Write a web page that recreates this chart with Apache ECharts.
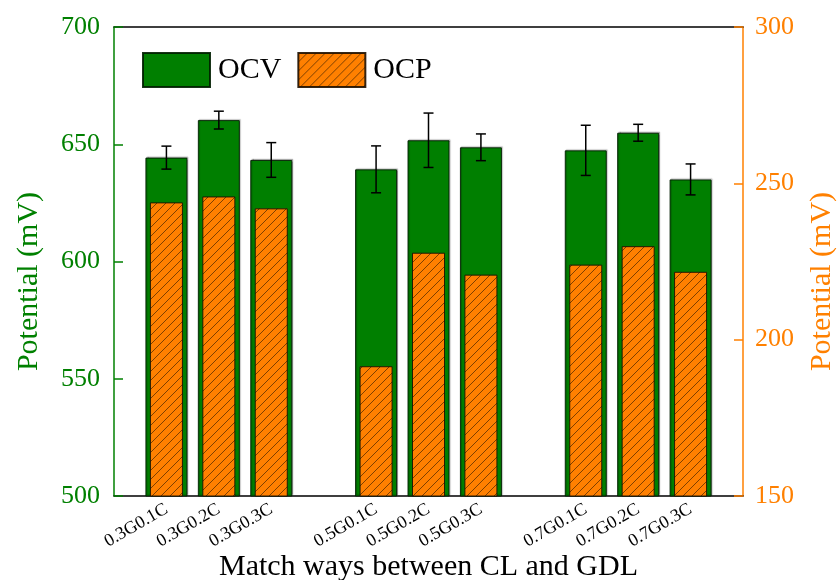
<!DOCTYPE html>
<html>
<head>
<meta charset="utf-8">
<script src="https://cdn.jsdelivr.net/npm/echarts@6/dist/echarts.min.js"></script>
<style>html,body{margin:0;padding:0;background:#fff}#c{width:838px;height:580px}</style>
</head>
<body>
<div id="c"></div>
<script>
// ---- data ----
const categories = ['0.3G0.1C','0.3G0.2C','0.3G0.3C','0.5G0.1C','0.5G0.2C','0.5G0.3C','0.7G0.1C','0.7G0.2C','0.7G0.3C'];
const ocv = [644.3, 660.3, 643.3, 639.3, 651.7, 648.7, 647.4, 654.9, 635.0];
const ocvErr = [4.9, 3.8, 7.4, 10.0, 11.6, 5.7, 10.7, 3.6, 6.6];
const ocp = [243.9, 245.8, 242.0, 191.5, 227.8, 220.8, 224.0, 229.9, 221.7];
const leftTicks = [500, 550, 600, 650, 700];
const rightTicks = [150, 200, 250, 300];

// build axis slots: blank slot at both ends and between groups of three
const axisCats = [''];
const slotIndex = [];
categories.forEach((c, i) => {
  if (i > 0 && i % 3 === 0) axisCats.push('');
  slotIndex.push(axisCats.length);
  axisCats.push(c);
});
axisCats.push('');
function toSlots(arr) {
  const out = axisCats.map(() => '-');
  arr.forEach((v, i) => { out[slotIndex[i]] = v; });
  return out;
}

const GREEN = '#007F00';
const ORANGE = '#FF8000';
const FONT = "'Liberation Serif','Times New Roman',serif";

// hatch pattern
const tile = document.createElement('canvas');
tile.width = 9; tile.height = 9;
const g = tile.getContext('2d');
g.fillStyle = ORANGE; g.fillRect(0, 0, 9, 9);
g.strokeStyle = 'rgba(40,20,0,0.75)'; g.lineWidth = 0.8;
g.beginPath();
g.moveTo(0, 9); g.lineTo(9, 0);
g.moveTo(-1, 1); g.lineTo(1, -1);
g.moveTo(8, 10); g.lineTo(10, 8);
g.stroke();

const chart = echarts.init(document.getElementById('c'));
chart.setOption({
  animation: false,
  textStyle: { fontFamily: FONT },
  grid: { left: 114, right: 95, top: 27, bottom: 84, containLabel: false, outerBoundsMode: 'none' },
  legend: {
    left: 137, top: 47, itemWidth: 67, itemHeight: 34, itemGap: 16,
    icon: 'rect',
    textStyle: { fontSize: 30, color: '#000', fontFamily: FONT, padding: [0, 0, 0, 3] },
    data: ['OCV', 'OCP']
  },
  xAxis: [{
    type: 'category', data: axisCats, boundaryGap: false,
    axisLine: { lineStyle: { color: '#000', width: 1.5 } },
    axisTick: { show: false },
    axisLabel: { rotate: 30, fontSize: 18, color: '#000', margin: 12, interval: 0, fontFamily: FONT },
    name: 'Match ways between CL and GDL', nameLocation: 'middle', nameGap: 56, nameMoveOverlap: false,
    nameTextStyle: { fontSize: 30, color: '#000', fontFamily: FONT }
  }, {
    type: 'category', data: axisCats, boundaryGap: false, position: 'top',
    axisLine: { lineStyle: { color: '#000', width: 1.5 } },
    axisTick: { show: false }, axisLabel: { show: false }
  }],
  yAxis: [{
    type: 'value', min: leftTicks[0], max: leftTicks[leftTicks.length - 1], interval: 50,
    position: 'left',
    axisLine: { show: true, lineStyle: { color: '#008000', width: 1.5 } },
    axisTick: { show: true, inside: true, length: 9, lineStyle: { color: '#008000', width: 1.5 } },
    axisLabel: { fontSize: 26, color: '#008000', margin: 14, fontFamily: FONT },
    splitLine: { show: false },
    name: 'Potential (mV)', nameLocation: 'middle', nameGap: 70, nameRotate: 90, nameMoveOverlap: false,
    nameTextStyle: { fontSize: 30, color: '#008000', fontFamily: FONT, padding: [0, 40, 0, 0] }
  }, {
    type: 'value', min: rightTicks[0], max: rightTicks[rightTicks.length - 1], interval: 50,
    position: 'right',
    axisLine: { show: true, lineStyle: { color: ORANGE, width: 1.5 } },
    axisTick: { show: true, inside: true, length: 9, lineStyle: { color: ORANGE, width: 1.5 } },
    axisLabel: { fontSize: 26, color: ORANGE, margin: 12, fontFamily: FONT },
    splitLine: { show: false },
    name: 'Potential (mV)', nameLocation: 'middle', nameGap: 64, nameRotate: 90, nameMoveOverlap: false,
    nameTextStyle: { fontSize: 30, color: ORANGE, fontFamily: FONT, padding: [0, 40, 0, 0] }
  }],
  series: [{
    name: 'OCV', type: 'bar', xAxisIndex: 0, yAxisIndex: 0, barWidth: 42,
    data: toSlots(ocv),
    itemStyle: { color: GREEN, borderColor: 'rgba(0,30,0,0.9)', borderWidth: 1,
      shadowColor: 'rgba(0,0,0,0.3)', shadowOffsetX: 1, shadowOffsetY: -1, shadowBlur: 1 },
    z: 2
  }, {
    name: 'OCP', type: 'bar', xAxisIndex: 1, yAxisIndex: 1, barWidth: 33,
    data: toSlots(ocp),
    itemStyle: { color: { image: tile, repeat: 'repeat' }, borderColor: 'rgba(30,15,0,0.9)', borderWidth: 1 },
    z: 3
  }, {
    name: 'err', type: 'custom', xAxisIndex: 0, yAxisIndex: 0, z: 5,
    data: ocv.map((v, i) => [slotIndex[i], v, ocvErr[i]]),
    encode: { x: 0, y: 1 },
    renderItem: function (params, api) {
      const x = api.value(0), v = api.value(1), e = api.value(2);
      const hi = api.coord([x, v + e]);
      const lo = api.coord([x, v - e]);
      const w = 5;
      const st = { stroke: '#000', lineWidth: 1.5 };
      return { type: 'group', children: [
        { type: 'line', shape: { x1: hi[0], y1: hi[1], x2: lo[0], y2: lo[1] }, style: st },
        { type: 'line', shape: { x1: hi[0] - w, y1: hi[1], x2: hi[0] + w, y2: hi[1] }, style: st },
        { type: 'line', shape: { x1: lo[0] - w, y1: lo[1], x2: lo[0] + w, y2: lo[1] }, style: st }
      ]};
    }
  }]
});
</script>
</body>
</html>
